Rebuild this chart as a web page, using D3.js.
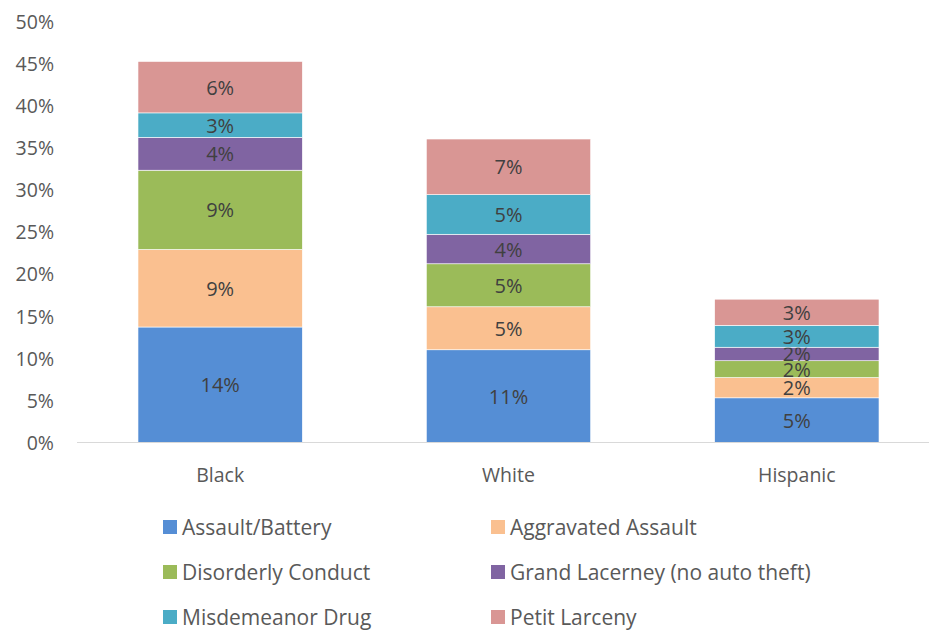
<!DOCTYPE html>
<html lang="en">
<head>
<meta charset="UTF-8">
<title>Arrest share by offense</title>
<script src="https://d3js.org/d3.v7.min.js"></script>
<style>
    body { margin: 0; background: #fff; }
    svg text { font-family: "Open Sans", Lato, sans-serif; }
    .tick-label { fill: #595959; font-size: 19.5px; }
    .bar-label { fill: #404040; font-size: 20px; }
    .legend-label { fill: #595959; font-size: 21px; }
</style>
</head>
<body>
<svg id="chart" width="929" height="630"></svg>
<script>
// categories on the x axis
const races = ["Black", "White", "Hispanic"];

// offense series (bottom to top)
const offenses = ["Assault/Battery", "Aggravated Assault", "Disorderly Conduct",
                  "Grand Lacerney (no auto theft)", "Misdemeanor Drug", "Petit Larceny"];
const colors = ["#558ed5", "#fac090", "#9bbb59", "#8064a2", "#4bacc6", "#d99694"];

// percent values per offense, in race order
const assaultBattery   = [13.7, 11.0, 5.3];
const aggravatedAssault = [9.2, 5.1, 2.4];
const disorderlyConduct = [9.4, 5.1, 2.0];
const grandLarceny     = [3.9, 3.5, 1.6];
const misdemeanorDrug  = [2.9, 4.7, 2.6];
const petitLarceny     = [6.1, 6.6, 3.1];

const yTicks = [0, 5, 10, 15, 20, 25, 30, 35, 40, 45, 50];

const seriesValues = [assaultBattery, aggravatedAssault, disorderlyConduct,
                      grandLarceny, misdemeanorDrug, petitLarceny];

// table for d3.stack
const rows = races.map((r, i) => {
    const row = { race: r };
    offenses.forEach((o, j) => { row[o] = seriesValues[j][i]; });
    return row;
});

const svg = d3.select("#chart");

const x = d3.scaleBand()
    .domain(races)
    .range([76, 941])
    .paddingInner(0.43)
    .paddingOuter(0.215);

const y = d3.scaleLinear()
    .domain([0, 50])
    .range([442.5, 21]);

const stacked = d3.stack().keys(offenses)(rows);

// bars
const layer = svg.selectAll("g.layer")
    .data(stacked)
    .enter().append("g")
    .attr("class", "layer")
    .attr("fill", (d, i) => colors[i]);

layer.selectAll("rect")
    .data(d => d)
    .enter().append("rect")
    .attr("x", d => x(d.data.race))
    .attr("y", d => y(d[1]))
    .attr("width", x.bandwidth())
    .attr("height", d => y(d[0]) - y(d[1]))
    .attr("stroke", "#fff")
    .attr("stroke-width", 0.6);

// segment labels
layer.selectAll("text")
    .data(d => d)
    .enter().append("text")
    .attr("class", "bar-label")
    .attr("x", d => x(d.data.race) + x.bandwidth() / 2)
    .attr("y", d => (y(d[0]) + y(d[1])) / 2)
    .attr("text-anchor", "middle")
    .attr("dominant-baseline", "central")
    .text(d => Math.round(d[1] - d[0]) + "%");

// baseline
svg.append("line")
    .attr("x1", 77).attr("x2", 929)
    .attr("y1", y(0)).attr("y2", y(0))
    .attr("stroke", "#d9d9d9")
    .attr("stroke-width", 1);

// y tick labels
svg.selectAll("text.ytick")
    .data(yTicks)
    .enter().append("text")
    .attr("class", "tick-label ytick")
    .attr("x", 54)
    .attr("y", d => y(d))
    .attr("text-anchor", "end")
    .attr("dominant-baseline", "central")
    .text(d => d + "%");

// x labels
svg.selectAll("text.xtick")
    .data(races)
    .enter().append("text")
    .attr("class", "tick-label xtick")
    .attr("x", d => x(d) + x.bandwidth() / 2)
    .attr("y", 474)
    .attr("text-anchor", "middle")
    .attr("dominant-baseline", "central")
    .text(d => d);

// legend, two columns
const legend = svg.selectAll("g.legend")
    .data(offenses)
    .enter().append("g")
    .attr("class", "legend")
    .attr("transform", (d, i) => `translate(${i % 2 === 0 ? 163 : 491},${527 + Math.floor(i / 2) * 45})`);

legend.append("rect")
    .attr("x", 0).attr("y", -7)
    .attr("width", 14).attr("height", 14)
    .attr("fill", (d, i) => colors[i]);

legend.append("text")
    .attr("class", "legend-label")
    .attr("x", 19)
    .attr("y", 0)
    .attr("dominant-baseline", "central")
    .text(d => d);
</script>
</body>
</html>
